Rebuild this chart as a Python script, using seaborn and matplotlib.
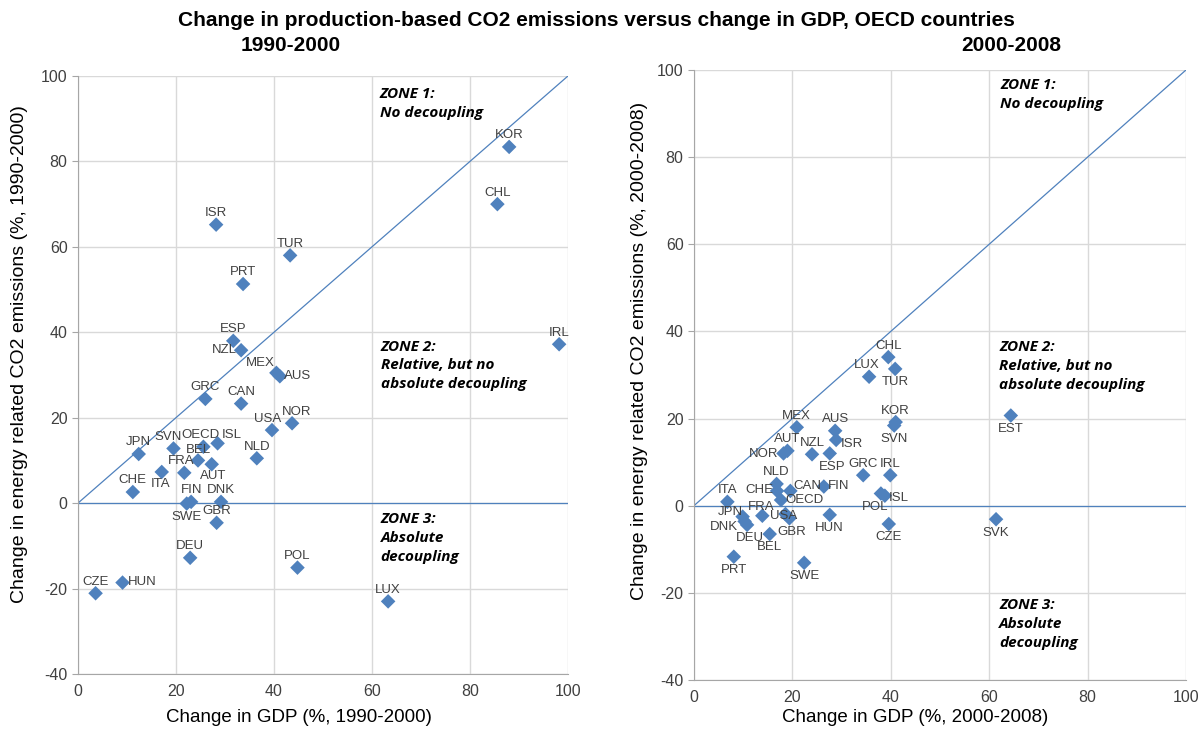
import pandas as pd
import seaborn as sns
import matplotlib.pyplot as plt

# 1990-2000
paises_1 = ['KOR', 'CHL', 'ISR', 'TUR', 'PRT', 'ESP', 'NZL', 'MEX', 'AUS', 'IRL',
            'GRC', 'CAN', 'USA', 'NOR', 'JPN', 'SVN', 'OECD', 'ISL', 'BEL', 'NLD',
            'AUT', 'FRA', 'ITA', 'CHE', 'FIN', 'SWE', 'DNK', 'GBR', 'DEU', 'POL',
            'HUN', 'CZE', 'LUX']
pib_1 = [88.0, 85.6, 28.2, 43.3, 33.7, 31.7, 33.3, 40.5, 41.2, 98.2,
         26.0, 33.3, 39.6, 43.7, 12.4, 19.5, 25.6, 28.5, 24.5, 36.5,
         27.3, 21.7, 17.1, 11.2, 23.1, 22.2, 29.2, 28.3, 22.9, 44.8,
         9.1, 3.6, 63.3]
co2_1 = [83.4, 70.0, 65.2, 58.0, 51.3, 38.0, 35.8, 30.5, 29.7, 37.2,
         24.4, 23.3, 17.1, 18.7, 11.5, 12.8, 13.2, 14.0, 10.0, 10.5,
         9.1, 7.1, 7.3, 2.6, 0.3, -0.1, 0.3, -4.6, -12.8, -15.1,
         -18.6, -21.1, -23.0]

# 2000-2008
paises_2 = ['CHL', 'TUR', 'LUX', 'KOR', 'SVN', 'EST', 'MEX', 'AUS', 'ISR', 'AUT',
            'NOR', 'NZL', 'ESP', 'GRC', 'IRL', 'NLD', 'CHE', 'CAN', 'FIN', 'OECD',
            'POL', 'ISL', 'ITA', 'JPN', 'DNK', 'FRA', 'USA', 'GBR', 'DEU', 'HUN',
            'CZE', 'BEL', 'PRT', 'SWE', 'SVK']
pib_2 = [39.5, 40.9, 35.6, 41.0, 40.7, 64.4, 20.9, 28.7, 28.9, 19.0,
         18.2, 24.0, 27.6, 34.4, 39.9, 16.8, 16.9, 19.6, 26.4, 17.7,
         38.0, 38.8, 6.8, 9.9, 10.3, 13.9, 18.6, 19.4, 10.8, 27.6,
         39.6, 15.4, 8.1, 22.4, 61.4]
co2_2 = [34.1, 31.4, 29.6, 19.2, 18.4, 20.7, 18.0, 17.2, 15.1, 12.6,
         12.0, 11.8, 12.0, 7.0, 7.0, 5.0, 3.4, 3.4, 4.4, 1.3,
         2.8, 2.3, 0.9, -2.5, -3.6, -2.3, -1.9, -2.9, -4.4, -2.1,
         -4.2, -6.5, -11.7, -13.1, -3.1]

# posicion de las etiquetas (dx, dy en puntos, alineacion); por defecto encima
etiq_1 = {'NZL': (-3, -4, 'right'), 'MEX': (-1, 3, 'right'), 'AUS': (3, -4, 'left'),
          'USA': (-3, 4, 'center'), 'NOR': (3, 4, 'center'), 'OECD': (-2, 4, 'center'),
          'SVN': (-4, 4, 'center'), 'BEL': (0, 3, 'center'),
          'ISL': (3, 2, 'left'), 'FRA': (-2, 4, 'center'), 'AUT': (1, -13, 'center'),
          'ITA': (-1, -13, 'center'), 'SWE': (0, -14, 'center'), 'HUN': (4, -4, 'left'),
          'KOR': (0, 4, 'center')}
etiq_2 = {'ISR': (3, -7, 'left'), 'NOR': (-4, -5, 'right'), 'ESP': (2, -14, 'center'),
          'SVN': (0, -14, 'center'), 'CHE': (-3, -4, 'right'), 'CAN': (2, -1, 'left'),
          'FIN': (3, -4, 'left'), 'OECD': (3, -4, 'left'), 'POL': (-4, -14, 'center'),
          'ISL': (3, -6, 'left'), 'JPN': (0, -1, 'right'), 'DNK': (-5, -8, 'right'),
          'USA': (-1, -6, 'center'), 'GBR': (2, -14, 'center'), 'DEU': (2, -14, 'center'),
          'HUN': (0, -14, 'center'), 'CZE': (0, -14, 'center'), 'BEL': (0, -14, 'center'),
          'PRT': (0, -14, 'center'), 'SWE': (0, -14, 'center'), 'TUR': (0, -14, 'center'),
          'EST': (0, -14, 'center'), 'SVK': (0, -14, 'center'), 'LUX': (-2, 4, 'center'),
          'FRA': (-1, 2, 'center')}

azul = '#4F81BD'
sns.set_style('white')
plt.rcParams['font.family'] = ['Liberation Sans', 'DejaVu Sans']
plt.rcParams['axes.unicode_minus'] = False

fig = plt.figure(figsize=(12.01, 7.35), dpi=100)
ax1 = fig.add_axes([0.0649, 0.0830, 0.4080, 0.8136])
ax2 = fig.add_axes([0.5778, 0.0748, 0.4097, 0.8300])


def panel(ax, paises, pib, co2, etiq, periodo, zonas, pos_x, pos_y):
    df = pd.DataFrame({'pais': paises, 'pib': pib, 'co2': co2})
    ax.plot([0, 100], [0, 100], color=azul, lw=0.9, zorder=2)
    ax.axhline(0, color=azul, lw=0.9, zorder=2)
    sns.scatterplot(data=df, x='pib', y='co2', ax=ax, marker='D', s=55,
                    color=azul, edgecolor='none', zorder=3)
    for p, x, y in zip(paises, pib, co2):
        dx, dy, ha = etiq.get(p, (0, 4, 'center'))
        ax.annotate(p, (x, y), xytext=(dx, dy), textcoords='offset points',
                    ha=ha, va='bottom', fontsize=9.5, color='#404040', zorder=4)
    for (zx, zy), txt in zonas:
        ax.text(zx, zy, txt, fontsize=11, fontweight='bold', style='italic',
                va='top', ha='left', linespacing=1.45, color='black',
                family=['Open Sans', 'DejaVu Sans'])
    ax.set_xlim(0, 100)
    ax.set_ylim(-40, 100)
    ax.set_xticks(range(0, 101, 20))
    ax.set_yticks(range(-40, 101, 20))
    ax.grid(True, color='#d9d9d9', lw=1)
    ax.set_axisbelow(True)
    for s in ['top', 'right']:
        ax.spines[s].set_visible(False)
    for s in ['left', 'bottom']:
        ax.spines[s].set_color('#a6a6a6')
    ax.tick_params(labelsize=11.5, colors='#404040', length=4, color='#a6a6a6',
                   left=True, bottom=False)
    ax.set_xlabel('Change in GDP (%, ' + periodo + ')', fontsize=13.5, color='black')
    ax.set_ylabel('Change in energy related CO2 emissions (%, ' + periodo + ')',
                  fontsize=14, color='black')
    ax.xaxis.set_label_coords(pos_x[0], pos_x[1])
    ax.yaxis.set_label_coords(pos_y[0], pos_y[1])


panel(ax1, paises_1, pib_1, co2_1, etiq_1, '1990-2000',
      [((61.6, 97.5), 'ZONE 1:\nNo decoupling'),
       ((61.8, 38.3), 'ZONE 2:\nRelative, but no\nabsolute decoupling'),
       ((61.8, -2.0), 'ZONE 3:\nAbsolute\ndecoupling')],
      (0.45, -0.058), (-0.102, 0.535))
panel(ax2, paises_2, pib_2, co2_2, etiq_2, '2000-2008',
      [((62.2, 98.2), 'ZONE 1:\nNo decoupling'),
       ((62.0, 38.0), 'ZONE 2:\nRelative, but no\nabsolute decoupling'),
       ((62.0, -21.2), 'ZONE 3:\nAbsolute\ndecoupling')],
      (0.45, -0.048), (-0.094, 0.54))

fig.text(0.497, 0.972, 'Change in production-based CO2 emissions versus change in GDP, OECD countries',
         ha='center', va='center', fontsize=15, fontweight='bold', color='black')
fig.text(0.242, 0.938, '1990-2000', ha='center', va='center', fontsize=15,
         fontweight='bold', color='black')
fig.text(0.842, 0.938, '2000-2008', ha='center', va='center', fontsize=15,
         fontweight='bold', color='black')

fig.savefig('out.png', dpi=100)
